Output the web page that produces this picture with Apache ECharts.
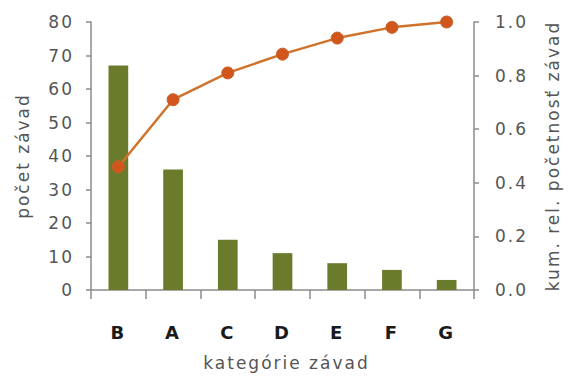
<!DOCTYPE html>
<html>
<head>
<meta charset="utf-8">
<script src="https://cdn.jsdelivr.net/npm/echarts@6/dist/echarts.min.js"></script>
<style>
  html, body { margin: 0; padding: 0; background: #ffffff; }
  #chart { width: 569px; height: 376px; }
  /* wider tracking for all chart text */
  #chart text { letter-spacing: 2px; }
</style>
</head>
<body>
<div id="chart"></div>
<script>
// Pareto chart of defect categories
const categories = ['B', 'A', 'C', 'D', 'E', 'F', 'G'];
const defectCounts = [67, 36, 15, 11, 8, 6, 3];
const cumulativeShare = [0.46, 0.71, 0.81, 0.88, 0.94, 0.98, 1.0];
const leftTicks = [0, 10, 20, 30, 40, 50, 60, 70, 80];
const rightTicks = [0.0, 0.2, 0.4, 0.6, 0.8, 1.0];

const FONT = 'DejaVu Sans';
const GREY = '#555555';
const AXIS = '#8c8c8c';

const chart = echarts.init(document.getElementById('chart'), null, { renderer: 'svg' });

chart.setOption({
  animation: false,
  backgroundColor: '#ffffff',
  grid: { left: 91, right: 90, top: 22, bottom: 82, containLabel: false },
  xAxis: {
    type: 'category',
    data: categories,
    name: 'kategórie závad',
    nameLocation: 'middle',
    nameGap: 64,
    nameTextStyle: { fontFamily: FONT, fontSize: 17, color: GREY, padding: [0, 0, 0, 8] },
    axisLine: { lineStyle: { color: AXIS, width: 1.5 } },
    axisTick: { show: true, alignWithLabel: false, length: 9, lineStyle: { color: AXIS, width: 1.5 } },
    axisLabel: { fontFamily: FONT, fontSize: 18, fontWeight: 'bold', color: '#1a1a1a', margin: 33 }
  },
  yAxis: [
    {
      type: 'value',
      min: leftTicks[0],
      max: leftTicks[leftTicks.length - 1],
      interval: 10,
      name: 'počet závad',
      nameLocation: 'middle',
      nameRotate: 90,
      nameGap: 60,
      nameTextStyle: { fontFamily: FONT, fontSize: 17, color: GREY },
      axisLine: { show: true, lineStyle: { color: AXIS, width: 1.5 } },
      axisTick: { show: true, length: 5, lineStyle: { color: AXIS, width: 1.5 } },
      axisLabel: { fontFamily: FONT, fontSize: 17, color: GREY, margin: 17 },
      splitLine: { show: false }
    },
    {
      type: 'value',
      min: rightTicks[0],
      max: rightTicks[rightTicks.length - 1],
      interval: 0.2,
      position: 'right',
      name: 'kum. rel. početnosť závad',
      nameLocation: 'middle',
      nameRotate: 90,
      nameGap: 70,
      nameTextStyle: { fontFamily: FONT, fontSize: 17, color: GREY },
      axisLine: { show: true, lineStyle: { color: AXIS, width: 1.5 } },
      axisTick: { show: true, length: 5, lineStyle: { color: AXIS, width: 1.5 } },
      axisLabel: {
        fontFamily: FONT, fontSize: 17, color: GREY, margin: 21,
        formatter: v => v.toFixed(1)
      },
      splitLine: { show: false }
    }
  ],
  series: [
    {
      type: 'bar',
      yAxisIndex: 0,
      data: defectCounts,
      barWidth: '36%',
      itemStyle: { color: '#6b7b2c' }
    },
    {
      type: 'line',
      yAxisIndex: 1,
      data: cumulativeShare,
      symbol: 'circle',
      symbolSize: 12,
      lineStyle: { color: '#d0722a', width: 2.5 },
      itemStyle: { color: '#d2561c', borderColor: '#c6602a', borderWidth: 1 },
      z: 5
    }
  ]
});
</script>
</body>
</html>
